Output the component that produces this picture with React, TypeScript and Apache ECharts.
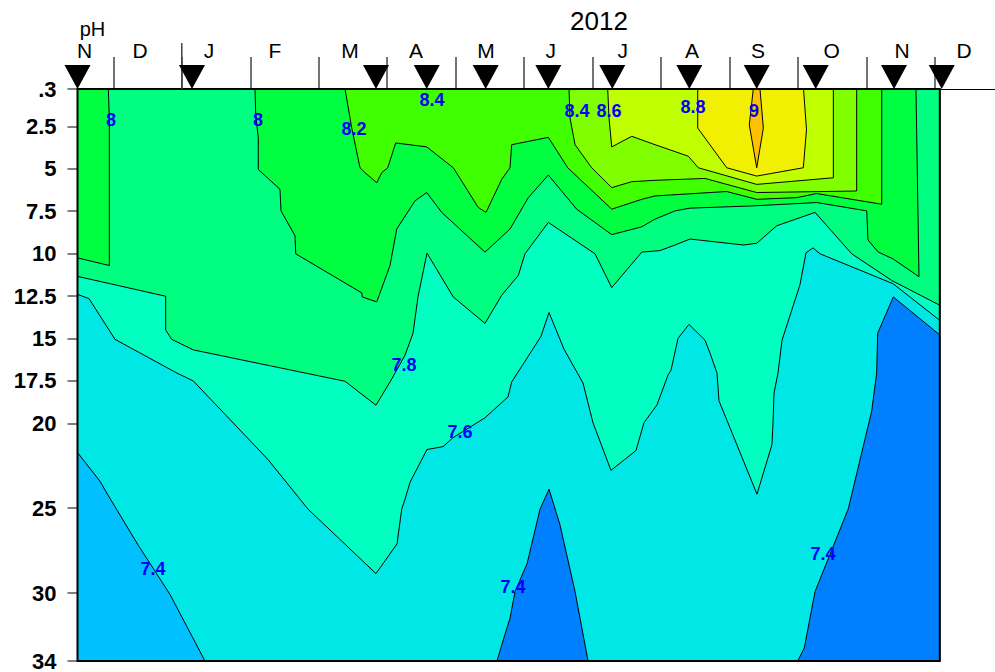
import React, { useEffect, useRef } from "react";
import * as echarts from "echarts";

type Pt = [number, number];

// x: months since 1 Nov 2011 (1 = 1 Dec 2011, 2 = 1 Jan 2012, ... 13 = 1 Dec 2012)
// y: depth (m)
const sampleDates = [0.477, 2.149, 4.836, 5.577, 6.438, 7.353, 8.287, 9.412, 10.396, 11.258, 12.401, 13.098];
const monthStarts = [1, 2, 3, 4, 5, 6, 7, 8, 9, 10, 11, 12, 13];
const yearStart = [2];
const monthLabelPos = [0.579, 1.39, 2.397, 3.361, 4.457, 5.421, 6.443, 7.388, 8.439, 9.451, 10.415, 11.492, 12.518, 13.423];
const monthLabels = ["N", "D", "J", "F", "M", "A", "M", "J", "J", "A", "S", "O", "N", "D"];
const depthTicks = [0.3, 2.5, 5, 7.5, 10, 12.5, 15, 17.5, 20, 25, 30, 34];
const dataStart = 0.477;
const dataEnd = 13.07;
const axisEnd = 13.876;
const depthMin = 0.3;
const depthMax = 34;

// contour regions (pH >= level), vertices as [month, depth]
const ph76: Pt[] = [
  [0.477, 0.3], [0.477, 12.4], [0.645, 12.65], [1.025, 15.05], [1.926, 17.03], [2.168, 17.5],
  [3.259, 22.13], [3.843, 25.05], [4.836, 28.85], [5.143, 27.1], [5.212, 25.05], [5.26, 24.47],
  [5.333, 23.47], [5.581, 21.54], [5.815, 21.37], [5.961, 20.84], [6.428, 19.67], [6.764, 18.44],
  [6.818, 17.56], [7.246, 14.87], [7.363, 13.47], [7.582, 15.63], [7.859, 17.62], [8.005, 19.96],
  [8.268, 22.77], [8.633, 21.6], [8.75, 19.96], [8.94, 18.91], [9.101, 17.15], [9.145, 16.86],
  [9.247, 14.99], [9.407, 14.17], [9.641, 15.1], [9.714, 15.86], [9.816, 17.03], [9.845, 18.67],
  [10.035, 20.55], [10.4, 24.17], [10.619, 21.25], [10.634, 19.96], [10.649, 18.21], [10.707, 17.03],
  [10.766, 15.1], [11.028, 11.83], [11.116, 9.95], [11.218, 9.66], [11.321, 10.01], [12.387, 11.77],
  [13.07, 13.93], [13.07, 0.3],
];
const ph78: Pt[] = [
  [0.477, 0.3], [0.477, 11.34], [1.765, 12.51], [1.765, 14.5], [1.853, 15.05], [2.168, 15.67],
  [4.384, 17.52], [4.836, 18.93], [5.041, 17.56], [5.26, 15.98], [5.377, 14.69], [5.45, 12.53],
  [5.581, 9.97], [5.965, 12.55], [6.428, 14.11], [6.672, 12.45], [6.915, 11.28], [7.012, 10.01],
  [7.353, 8.16], [8.035, 10.01], [8.279, 12.0], [8.717, 9.91], [8.984, 9.82], [9.203, 9.49],
  [9.422, 9.14], [10.2, 9.49], [10.396, 9.39], [10.688, 8.36], [11.248, 7.57], [11.784, 10.01],
  [12.368, 11.58], [13.07, 13.04], [13.07, 0.3],
];
const ph80Strip: Pt[] = [
  [0.477, 0.3], [0.927, 0.3], [0.942, 2.01], [0.942, 10.7], [0.477, 10.25],
];
const ph80Main: Pt[] = [
  [3.069, 0.3], [3.08, 1.82], [3.117, 3.18], [3.117, 5.04], [3.434, 6.21], [3.449, 7.48],
  [3.653, 8.94], [3.664, 10.01], [4.628, 12.31], [4.636, 12.55], [4.749, 12.71], [4.847, 12.84],
  [5.041, 10.7], [5.139, 8.55], [5.406, 6.89], [5.577, 6.4], [5.796, 7.57], [6.428, 9.91],
  [6.793, 8.55], [7.061, 6.7], [7.353, 5.37], [7.767, 7.38], [8.279, 8.88], [8.717, 8.42],
  [8.911, 7.97], [9.203, 7.48], [9.422, 7.32], [10.323, 7.19], [11.272, 6.99], [12.003, 7.48],
  [12.021, 9.19], [12.168, 9.9], [12.387, 10.31], [12.766, 11.36], [12.722, 0.3],
];
const ph82: Pt[] = [
  [4.384, 0.3], [4.482, 2.6], [4.603, 4.94], [4.676, 5.23], [4.847, 5.82], [4.92, 5.23],
  [5.007, 4.94], [5.124, 3.48], [5.577, 3.71], [5.965, 4.94], [6.33, 7.28], [6.443, 7.57],
  [6.672, 5.62], [6.793, 4.94], [6.818, 3.58], [7.353, 3.15], [7.636, 4.94], [8.279, 7.38],
  [8.717, 6.8], [8.911, 6.6], [9.958, 6.34], [10.396, 6.8], [10.98, 6.7], [11.272, 6.46],
  [12.222, 7.09], [12.222, 0.3],
];
const ph84: Pt[] = [
  [7.655, 0.3], [7.67, 2.01], [7.743, 3.58], [7.986, 4.94], [8.279, 6.11], [8.571, 5.76],
  [8.911, 5.68], [9.641, 5.57], [10.396, 6.4], [11.856, 6.31], [11.856, 0.3],
];
const ph86: Pt[] = [
  [8.22, 0.3], [8.239, 2.01], [8.279, 3.71], [8.571, 3.09], [8.911, 3.58], [9.397, 4.26],
  [9.543, 4.94], [10.396, 5.92], [11.515, 5.53], [11.515, 0.3],
];
const ph88: Pt[] = [
  [9.535, 0.3], [9.535, 2.6], [9.958, 4.94], [10.396, 5.43], [11.077, 4.94], [11.123, 2.7], [11.08, 0.3],
];
const ph90: Pt[] = [
  [10.346, 0.3], [10.288, 2.41], [10.396, 4.94], [10.493, 2.6], [10.444, 0.3],
];
// regions below 7.4
const ph74Left: Pt[] = [
  [0.477, 21.72], [0.806, 23.41], [0.923, 24.23], [1.361, 27.16], [1.492, 27.98], [1.828, 30.08],
  [2.339, 34], [0.477, 34],
];
const ph74Mid: Pt[] = [
  [6.603, 34], [6.72, 32.42], [6.793, 31.49], [6.866, 29.91], [7.042, 28.27], [7.232, 25.05],
  [7.363, 23.88], [7.524, 25.99], [7.743, 29.91], [7.933, 34],
];
const ph74Right: Pt[] = [
  [10.995, 34], [11.091, 33.23], [11.248, 29.91], [11.734, 25.03], [12.075, 19.28], [12.148, 17.03],
  [12.163, 14.69], [12.391, 12.55], [13.07, 14.79], [13.07, 34],
];

const contourLabelText = ["8", "8", "8.2", "8.4", "8.4", "8.6", "8.8", "9", "7.8", "7.6", "7.4", "7.4", "7.4"];
const contourLabelPos: Pt[] = [
  [0.966, 2.11], [3.113, 2.11], [4.515, 2.64], [5.654, 0.94], [7.772, 1.59], [8.239, 1.59],
  [9.466, 1.35], [10.357, 1.59], [5.245, 16.57], [6.063, 20.49], [1.58, 28.56], [6.837, 29.62],
  [11.364, 27.68],
];

const FONT = 'Arial, "Liberation Sans", Helvetica, sans-serif';

const plotArea: Pt[] = [
  [dataStart, depthMin], [dataEnd, depthMin], [dataEnd, depthMax], [dataStart, depthMax],
];

const bands: { pts: Pt[]; color: string; line: boolean }[] = [
  { pts: plotArea, color: "#00E8E6", line: false },
  { pts: ph76, color: "#00FFC0", line: true },
  { pts: ph78, color: "#00FF80", line: true },
  { pts: ph80Strip, color: "#00FF40", line: true },
  { pts: ph80Main, color: "#00FF40", line: true },
  { pts: ph82, color: "#40FF00", line: true },
  { pts: ph84, color: "#80FF00", line: true },
  { pts: ph86, color: "#C0FF00", line: true },
  { pts: ph88, color: "#F0F000", line: true },
  { pts: ph90, color: "#FFC000", line: true },
  { pts: ph74Left, color: "#00C0FF", line: true },
  { pts: ph74Mid, color: "#0080FF", line: true },
  { pts: ph74Right, color: "#0080FF", line: true },
];

export default function App() {
  const ref = useRef<HTMLDivElement>(null);

  useEffect(() => {
    if (!ref.current) return;
    const chart = echarts.init(ref.current, undefined, { renderer: "svg" });

    const option: any = {
      animation: false,
      grid: { left: 77.5, right: 0, top: 89, bottom: 7, containLabel: false },
      xAxis: {
        type: "value",
        position: "top",
        min: dataStart,
        max: axisEnd,
        axisLine: { show: true, onZero: false, lineStyle: { color: "#000", width: 1 } },
        axisTick: {
          show: true,
          customValues: monthStarts,
          length: 32,
          lineStyle: { color: "#444", width: 1.5 },
        },
        axisLabel: {
          show: true,
          customValues: monthLabelPos,
          formatter: (v: number) => {
            const i = monthLabelPos.findIndex((p) => Math.abs(p - v) < 1e-6);
            return i >= 0 ? monthLabels[i] : "";
          },
          margin: 28,
          fontSize: 21,
          fontFamily: FONT,
          color: "#000",
        },
        splitLine: { show: false },
      },
      yAxis: {
        type: "value",
        inverse: true,
        min: depthMin,
        max: depthMax,
        axisLine: { show: false },
        axisTick: {
          show: true,
          customValues: depthTicks,
          length: 10,
          lineStyle: { color: "#555", width: 1.5 },
        },
        axisLabel: {
          show: true,
          customValues: depthTicks,
          formatter: (v: number) => (Math.abs(v - 0.3) < 1e-6 ? ".3" : String(v)),
          margin: 21,
          fontSize: 22,
          fontWeight: "bold",
          fontFamily: FONT,
          color: "#000",
        },
        splitLine: { show: false },
      },
      graphic: [
        {
          type: "text",
          x: 599,
          y: 21,
          style: {
            text: "2012",
            fill: "#000",
            fontSize: 26,
            fontFamily: FONT,
            textAlign: "center",
            textVerticalAlign: "middle",
            align: "center",
            verticalAlign: "middle",
          },
        },
        {
          type: "text",
          x: 92.5,
          y: 29,
          style: {
            text: "pH",
            fill: "#000",
            fontSize: 20,
            fontFamily: FONT,
            textAlign: "center",
            textVerticalAlign: "middle",
            align: "center",
            verticalAlign: "middle",
          },
        },
      ],
      series: [
        {
          type: "custom",
          name: "bands",
          clip: false,
          z: 2,
          data: bands.map((b, i) => [b.pts[0][0], b.pts[0][1], i]),
          encode: { x: 0, y: 1 },
          renderItem: (_p: any, api: any) => {
            const b = bands[api.value(2)];
            const pts = b.pts.map((p) => api.coord(p));
            return {
              type: "polygon",
              shape: { points: pts },
              style: {
                fill: b.color,
                stroke: b.line ? "#000" : "none",
                lineWidth: b.line ? 1 : 0,
              },
            };
          },
        },
        {
          type: "custom",
          name: "frame",
          clip: false,
          z: 3,
          data: [[dataStart, depthMin, dataEnd, depthMax]],
          encode: { x: 0, y: 1 },
          renderItem: (_p: any, api: any) => {
            const a = api.coord([api.value(0), api.value(1)]);
            const b = api.coord([api.value(2), api.value(3)]);
            return {
              type: "rect",
              shape: { x: a[0], y: a[1], width: b[0] - a[0], height: b[1] - a[1] },
              style: { fill: "none", stroke: "#000", lineWidth: 2 },
            };
          },
        },
        {
          type: "custom",
          name: "contour labels",
          clip: false,
          z: 4,
          data: contourLabelPos.map((p, i) => [p[0], p[1], i]),
          encode: { x: 0, y: 1 },
          renderItem: (_p: any, api: any) => {
            const c = api.coord([api.value(0), api.value(1)]);
            return {
              type: "text",
              x: c[0],
              y: c[1],
              style: {
                text: contourLabelText[api.value(2)],
                fill: "#0000FF",
                fontSize: 18,
                fontWeight: "bold",
                fontFamily: FONT,
                textAlign: "center",
                textVerticalAlign: "middle",
                align: "center",
                verticalAlign: "middle",
              },
            };
          },
        },
        {
          type: "custom",
          name: "year tick",
          clip: false,
          z: 4,
          data: yearStart.map((u) => [u, depthMin]),
          encode: { x: 0, y: 1 },
          renderItem: (_p: any, api: any) => {
            const c = api.coord([api.value(0), api.value(1)]);
            return {
              type: "line",
              shape: { x1: c[0], y1: c[1], x2: c[0], y2: c[1] - 46 },
              style: { stroke: "#444", lineWidth: 1.5 },
            };
          },
        },
        {
          type: "custom",
          name: "sampling dates",
          clip: false,
          z: 5,
          data: sampleDates.map((u) => [u, depthMin]),
          encode: { x: 0, y: 1 },
          renderItem: (_p: any, api: any) => {
            const c = api.coord([api.value(0), api.value(1)]);
            return {
              type: "polygon",
              shape: {
                points: [
                  [c[0] - 13, c[1] - 24],
                  [c[0] + 13, c[1] - 24],
                  [c[0], c[1]],
                ],
              },
              style: { fill: "#000" },
            };
          },
        },
      ],
    };

    chart.setOption(option);
    return () => chart.dispose();
  }, []);

  return (
    <div
      ref={ref}
      style={{ position: "fixed", left: 0, top: 0, width: 995, height: 672, background: "#fff" }}
    />
  );
}
